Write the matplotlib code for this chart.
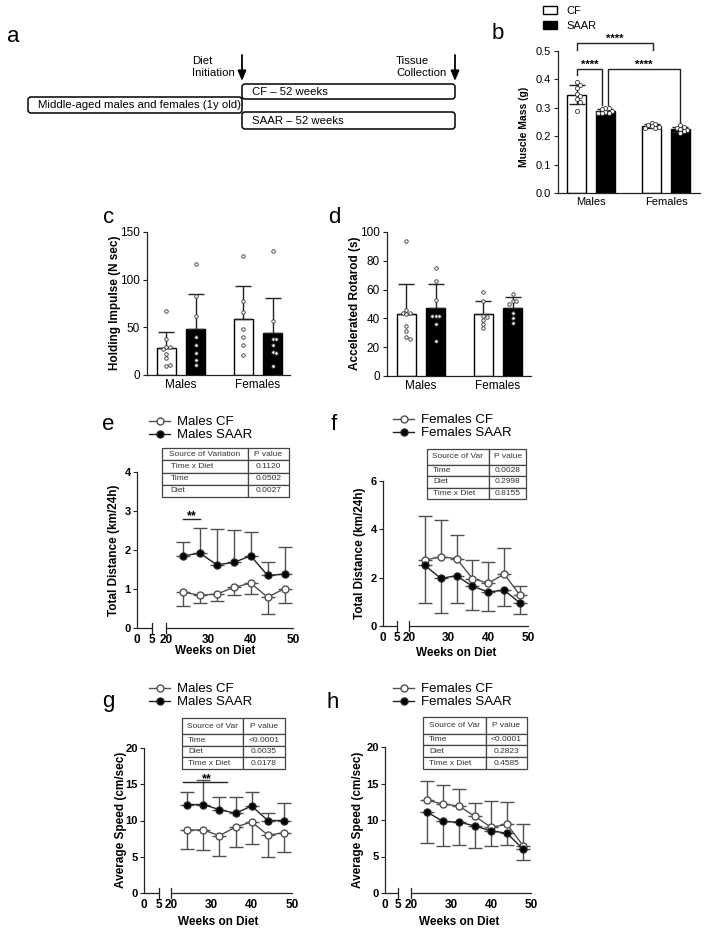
"""
Muscle mass, strength and activity in middle-aged mice on CF vs SAAR diet
Multi-panel figure (a-h)
"""
import numpy as np
import matplotlib
matplotlib.use('Agg')
import matplotlib.pyplot as plt
import matplotlib.transforms as mtransforms
from matplotlib.patches import FancyBboxPatch, Patch
from matplotlib.lines import Line2D

plt.rcParams['font.family'] = ['Liberation Sans', 'DejaVu Sans']

W, H = 708, 934

# ---------------- data ----------------
groups = ['Males', 'Females']
diets = ['CF', 'SAAR']

# b: muscle mass (g), individual animals
b_males_cf = [0.39, 0.38, 0.37, 0.35, 0.34, 0.33, 0.32, 0.29]
b_males_saar = [0.30, 0.30, 0.295, 0.29, 0.285, 0.28, 0.28, 0.28]
b_females_cf = [0.248, 0.242, 0.238, 0.235, 0.232, 0.23, 0.228]
b_females_saar = [0.238, 0.232, 0.228, 0.225, 0.222, 0.218, 0.21]

# c: holding impulse (N sec)
c_males_cf = [67, 37, 29, 29, 27, 22, 17, 9, 10]
c_males_saar = [116, 83, 62, 40, 31, 23, 15, 10]
c_females_cf = [125, 77, 66, 48, 40, 31, 20.5]
c_females_saar = [130, 56, 37, 37, 31, 24, 23, 9]

# d: accelerated rotarod (s)
d_males_cf = [94, 46, 44, 44, 43, 35, 31, 27, 26]
d_males_saar = [75, 66, 53, 42, 42, 42, 36, 24]
d_females_cf = [58, 52, 42, 41, 39, 36, 33]
d_females_saar = [57, 52, 52, 50, 44, 40, 37]

weeks = [24, 28, 32, 36, 40, 44, 48]

# e: males total distance (km/24h)
e_cf = [0.92, 0.84, 0.87, 1.04, 1.15, 0.79, 1.01]
e_cf_sd = [0.35, 0.21, 0.19, 0.19, 0.28, 0.43, 0.37]
e_saar = [1.85, 1.92, 1.62, 1.68, 1.85, 1.35, 1.38]
e_saar_sd = [0.36, 0.64, 0.93, 0.84, 0.62, 0.33, 0.70]

# f: females total distance (km/24h)
f_cf = [2.73, 2.86, 2.79, 1.96, 1.77, 2.15, 1.27]
f_cf_sd = [1.84, 1.51, 0.98, 0.77, 0.86, 1.09, 0.37]
f_saar = [2.51, 1.97, 2.08, 1.64, 1.41, 1.48, 0.95]
f_saar_sd = [1.57, 1.43, 1.14, 0.98, 0.79, 0.64, 0.45]

# g: males average speed (cm/sec)
g_cf = [8.7, 8.7, 7.9, 9.1, 9.8, 8.0, 8.3]
g_cf_sd = [2.6, 2.7, 2.8, 2.7, 3.0, 3.0, 2.7]
g_saar = [12.2, 12.2, 11.5, 11.0, 12.0, 10.0, 10.0]
g_saar_sd = [1.8, 3.4, 1.8, 2.2, 2.0, 1.0, 2.4]

# h: females average speed (cm/sec)
h_cf = [12.7, 12.2, 11.9, 10.5, 9.0, 9.4, 6.5]
h_cf_sd = [2.6, 2.6, 2.4, 1.8, 3.6, 3.0, 3.0]
h_saar = [11.1, 9.8, 9.7, 9.2, 8.5, 8.2, 6.0]
h_saar_sd = [4.2, 3.4, 3.1, 3.0, 2.1, 1.6, 1.5]

e_table = [['Source of Variation', 'P value'], ['Time x Diet', '0.1120'],
           ['Time', '0.0502'], ['Diet', '0.0027']]
f_table = [['Source of Var', 'P value'], ['Time', '0.0028'],
           ['Diet', '0.2998'], ['Time x Diet', '0.8155']]
g_table = [['Source of Var', 'P value'], ['Time', '<0.0001'],
           ['Diet', '0.0035'], ['Time x Diet', '0.0178']]
h_table = [['Source of Var', 'P value'], ['Time', '<0.0001'],
           ['Diet', '0.2823'], ['Time x Diet', '0.4585']]

INK = '#222222'


def rect(l, t, r, b):
    """pixel box -> figure fraction rect"""
    return [l / W, 1 - b / H, (r - l) / W, (b - t) / H]


def fxy(x, y):
    return x / W, 1 - y / H


def swarm(vals, ypx, xpx, dot):
    """horizontal offsets so that dots don't overlap (in x data units)"""
    placed, offs = [], []
    cands = [0] + [s * i for i in range(1, 6) for s in (1, -1)]
    for v in vals:
        y = v * ypx
        for c in cands:
            x = c * dot
            if all((x - px) ** 2 + (y - py) ** 2 >= dot ** 2 * 0.9 for px, py in placed):
                break
        placed.append((x, y))
        offs.append(x / xpx)
    return np.array(offs)


def style_axes(ax):
    for s in ['top', 'right']:
        ax.spines[s].set_visible(False)
    for s in ['left', 'bottom']:
        ax.spines[s].set_linewidth(0.9)
        ax.spines[s].set_color(INK)


fig = plt.figure(figsize=(W / 100, H / 100), dpi=100)

# ---------------- panel a: schematic ----------------
ax0 = fig.add_axes([0, 0, 1, 1])
ax0.set_xlim(0, W)
ax0.set_ylim(H, 0)
ax0.axis('off')
for (x, y, w, h, txt) in [(242, 84, 213, 15, 'CF \u2013 52 weeks'),
                          (28, 97, 214, 16, 'Middle-aged males and females (1y old)'),
                          (242, 112, 213, 17, 'SAAR \u2013 52 weeks')]:
    ax0.add_patch(FancyBboxPatch((x, y), w, h, boxstyle='round,pad=0,rounding_size=3',
                                 facecolor='none', edgecolor='black', linewidth=1.1))
    ax0.text(x + 10, y + h / 2 + 0.5, txt, ha='left', va='center', fontsize=8.2)
for x, tx, txt in [(242, 192, 'Diet\nInitiation'), (455, 396, 'Tissue\nCollection')]:
    ax0.annotate('', xy=(x, 81), xytext=(x, 55),
                 arrowprops=dict(arrowstyle='-|>,head_width=0.25,head_length=0.6',
                                 color='black', lw=1.3, shrinkA=0, shrinkB=0))
    ax0.text(tx, 67, txt, ha='left', va='center', fontsize=8.2, linespacing=1.2)

# panel letters
for lt, x, y in [('a', 7, 42), ('b', 492, 39), ('c', 103, 223), ('d', 328, 223),
                 ('e', 102, 430), ('f', 331, 430), ('g', 102, 707), ('h', 327, 708)]:
    fig.text(*fxy(x, y), lt, fontsize=16, ha='left', va='baseline')


# ---------------- bar panels ----------------
def bar_panel(box, data, ymax, yticks, fmt, tick_fs, gap_px, both_err, dot_px, ms):
    l, t, r, b = box
    ax = fig.add_axes(rect(l, t, r, b))
    style_axes(ax)
    ypx = (b - t) / ymax
    for gi, pair in enumerate(data):
        for si, vals in enumerate(pair):
            vals = np.asarray(vals, dtype=float)
            x = gi + (-0.19 if si == 0 else 0.19)
            m, sd = vals.mean(), vals.std(ddof=1)
            ax.bar(x, m, width=0.25, color='white' if si == 0 else 'black',
                   edgecolor='black', linewidth=1.0, zorder=1)
            ax.errorbar(x, m, yerr=[[sd if both_err else 0], [sd]], fmt='none',
                        ecolor=INK, elinewidth=1.0, capsize=5.5, capthick=1.0, zorder=2)
            offs = swarm(vals, ypx, gap_px, dot_px)
            ax.plot(x + offs, vals, 'o', ms=ms, mfc='white', mec='#333333', mew=0.6,
                    zorder=3, clip_on=False)
    ax.set_ylim(0, ymax)
    ax.set_xlim(-0.44, (r - l) / gap_px - 0.44)
    ax.set_yticks(yticks)
    ax.set_yticklabels([fmt.format(v) for v in yticks])
    ax.set_xticks([0, 1])
    ax.set_xticklabels(groups)
    ax.tick_params(axis='y', length=3, width=0.8, color=INK, labelsize=tick_fs, pad=2)
    ax.tick_params(axis='x', length=0, labelsize=tick_fs, pad=3)
    return ax


axb = bar_panel((558, 51, 700, 193),
                [(b_males_cf, b_males_saar), (b_females_cf, b_females_saar)],
                0.5, [0.0, 0.1, 0.2, 0.3, 0.4, 0.5], '{:.1f}', 8, 75, True, 3.6, 2.9)
axc = bar_panel((147, 232, 290, 374.5),
                [(c_males_cf, c_males_saar), (c_females_cf, c_females_saar)],
                150, [0, 50, 100, 150], '{:.0f}', 8.5, 77, False, 3.6, 2.5)
axd = bar_panel((387, 232, 531, 376),
                [(d_males_cf, d_males_saar), (d_females_cf, d_females_saar)],
                100, [0, 20, 40, 60, 80, 100], '{:.0f}', 8.5, 77, False, 3.6, 2.5)

# significance brackets in b
for xs, ys in [([-0.19, -0.19, 0.15, 0.15], [0.416, 0.436, 0.436, 0.31]),
               ([0.22, 0.22, 1.19, 1.19], [0.31, 0.436, 0.436, 0.24]),
               ([-0.19, -0.19, 0.83, 0.83], [0.503, 0.528, 0.528, 0.503])]:
    axb.plot(xs, ys, color=INK, lw=1.0, clip_on=False)
for x, y in [(-0.02, 0.442), (0.705, 0.442), (0.32, 0.534)]:
    axb.text(x, y, '****', ha='center', va='baseline', fontsize=8, fontweight='bold',
             clip_on=False)

fig.legend(handles=[Patch(facecolor='white', edgecolor='black', lw=1.0),
                    Patch(facecolor='black', edgecolor='black', lw=1.0)],
           labels=diets, loc='upper left', bbox_to_anchor=fxy(543, 6),
           bbox_transform=fig.transFigure, frameon=False, fontsize=8,
           handlelength=1.3, handleheight=0.75, handletextpad=0.8,
           labelspacing=0.45, borderpad=0, borderaxespad=0)

for txt, x, y, fs in [('Muscle Mass (g)', 524, 127, 7.5),
                      ('Holding Impulse (N sec)', 115, 303, 8.5),
                      ('Accelerated Rotarod (s)', 355, 303, 8.5)]:
    fig.text(*fxy(x, y), txt, rotation=90, ha='center', va='center',
             fontsize=fs, fontweight='bold')


# ---------------- time course panels ----------------
def line_panel(seg1, seg2, top, bot, ymax, yticks, cf, cf_sd, cf_dir, saar, saar_sd,
               sex, leg_xy, table, tbox, hdr, ylabel, ylab_xy, xlab_xy):
    ax1 = fig.add_axes(rect(seg1[0], top, seg1[1], bot))
    ax2 = fig.add_axes(rect(seg2[0], top, seg2[1], bot), sharey=ax1)
    style_axes(ax1)
    style_axes(ax2)
    ax2.spines['left'].set_visible(False)
    ax1.set_xlim(0, 5)
    ax2.set_xlim(20, 50)
    ax1.set_ylim(0, ymax)
    ax1.set_yticks(yticks)
    ax1.set_xticks([0, 5])
    ax2.set_xticks([20, 30, 40, 50])
    ax1.tick_params(axis='y', length=3, width=0.8, color=INK, labelsize=8, pad=1.5)
    for a in (ax1, ax2):
        a.tick_params(axis='x', length=0, labelsize=8.5, pad=4)
        for lab in a.get_xticklabels() + a.get_yticklabels():
            lab.set_fontweight('bold')
    ax2.tick_params(axis='y', left=False, labelleft=False)
    # axis break marks
    for a, xb in [(ax1, 5), (ax2, 20)]:
        tr = mtransforms.blended_transform_factory(a.transData, a.transAxes)
        a.plot([xb, xb], [-0.035, 0.035], color=INK, lw=0.9, transform=tr, clip_on=False)

    saar_dir = 'up' if cf_dir == 'down' else 'down'
    for vals, sd, d, face, col in [(cf, cf_sd, cf_dir, 'white', '#505050'),
                                   (saar, saar_sd, saar_dir, 'black', '#222222')]:
        zero = np.zeros(len(sd))
        err = [sd, zero] if d == 'down' else [zero, sd]
        ax2.errorbar(weeks, vals, yerr=err, fmt='none', ecolor='#505050', elinewidth=1.0,
                     capsize=5, capthick=1.0, zorder=2, clip_on=False)
        ax2.plot(weeks, vals, '-o', color=col, lw=1.0, ms=5, mfc=face, mec=col,
                 mew=1.0, zorder=3, clip_on=False)

    handles = [Line2D([], [], color='#505050', lw=1.0, marker='o', ms=5, mfc='white',
                      mec='#505050', mew=1.0),
               Line2D([], [], color='#222222', lw=1.0, marker='o', ms=5, mfc='black',
                      mec='#222222', mew=1.0)]
    ax2.legend(handles, [f'{sex} CF', f'{sex} SAAR'], loc='upper left',
               bbox_to_anchor=fxy(*leg_xy), bbox_transform=fig.transFigure,
               frameon=False, fontsize=9.5, handlelength=1.6, handletextpad=0.5,
               labelspacing=0.05, borderpad=0, borderaxespad=0)

    tl, tt, tr_, tb, tsplit = tbox
    tax = fig.add_axes(rect(tl, tt, tr_, tb))
    tax.axis('off')
    c0 = (tsplit - tl) / (tr_ - tl)
    tbl = tax.table(cellText=table, colWidths=[c0, 1 - c0], cellLoc='center',
                    bbox=[0, 0, 1, 1])
    tbl.auto_set_font_size(False)
    tbl.set_fontsize(6)
    for (ri, ci), cell in tbl.get_celld().items():
        cell.set_edgecolor('#444444')
        cell.set_linewidth(0.9)
        cell.get_text().set_color('#333333')
        if ci == 0 and ri > 0:
            cell.get_text().set_ha('left')
        if ri == 0:
            cell.set_height(cell.get_height() * hdr)

    fig.text(*fxy(*ylab_xy), ylabel, rotation=90, ha='center', va='center',
             fontsize=8.5, fontweight='bold')
    fig.text(*fxy(*xlab_xy), 'Weeks on Diet', ha='center', va='center',
             fontsize=8.5, fontweight='bold')
    return ax1, ax2


_, ax_e = line_panel((137, 152), (166, 293), 472, 628, 4, [0, 1, 2, 3, 4],
                     e_cf, e_cf_sd, 'down', e_saar, e_saar_sd, 'Males', (149, 416),
                     e_table, (162, 448, 289, 497, 248), 1.0,
                     'Total Distance (km/24h)', (114, 550), (215, 651))
ax_e.plot([24, 28], [2.79, 2.79], color=INK, lw=1.0)
ax_e.text(26, 2.79, '**', ha='center', va='baseline', fontsize=9, fontweight='bold')

line_panel((383, 397), (409, 528), 481, 626, 6, [0, 2, 4, 6],
           f_cf, f_cf_sd, 'up', f_saar, f_saar_sd, 'Females', (393, 414),
           f_table, (427, 449, 526, 499, 489), 1.4,
           'Total Distance (km/24h)', (360, 553), (456, 653))

_, ax_g = line_panel((144, 159), (171, 292), 748, 893, 20, [0, 5, 10, 15, 20],
                     g_cf, g_cf_sd, 'down', g_saar, g_saar_sd, 'Males', (149, 683),
                     g_table, (182, 718, 285, 769, 243), 1.4,
                     'Average Speed (cm/sec)', (121, 820), (218, 922))
ax_g.plot([23, 34], [15.3, 15.3], color=INK, lw=1.0)
ax_g.text(29, 15.3, '**', ha='center', va='baseline', fontsize=9, fontweight='bold')

line_panel((385, 398), (411, 531), 747, 893, 20, [0, 5, 10, 15, 20],
           h_cf, h_cf_sd, 'up', h_saar, h_saar_sd, 'Females', (393, 683),
           h_table, (423, 717, 527, 769, 486), 1.4,
           'Average Speed (cm/sec)', (358, 820), (459, 922))

fig.savefig('out.png', dpi=100, facecolor='white')
plt.close(fig)
